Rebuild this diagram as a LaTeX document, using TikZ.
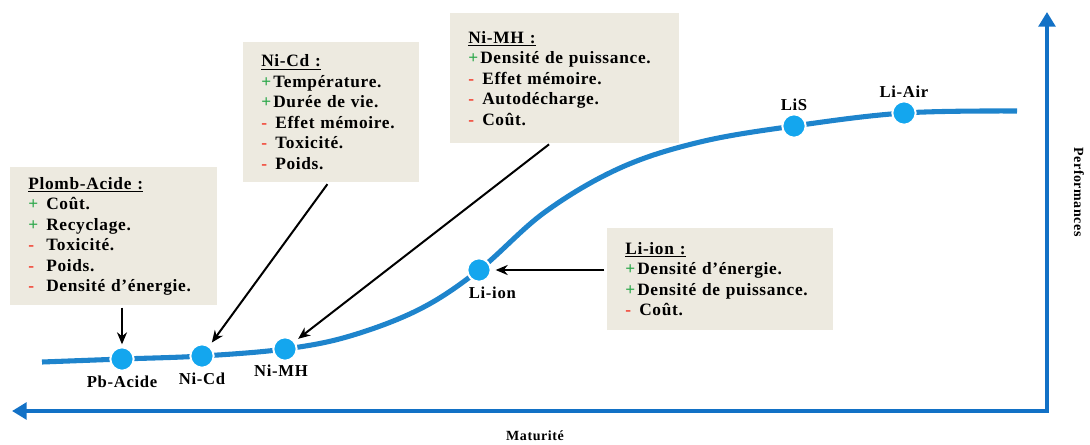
\documentclass[tikz,border=0pt]{standalone}
\usepackage{fontspec}
\setmainfont{Liberation Serif}[LetterSpace=4]
\usepackage{xcolor}
\usepackage{tikz}
\usetikzlibrary{positioning, arrows.meta}

\definecolor{cardbg}{HTML}{EDEAE0}
\definecolor{curveblue}{HTML}{1E84CC}
\definecolor{dotcyan}{HTML}{14A6EE}
\definecolor{axisblue}{HTML}{1271C6}
\definecolor{plusgreen}{HTML}{2EA84C}
\definecolor{minusred}{HTML}{F23A2A}

\newcommand{\good}[1][9pt]{\makebox[#1][l]{\textcolor{plusgreen}{+}}}
\newcommand{\bad}[1][10.5pt]{\makebox[#1][l]{\textcolor{minusred}{-}}}

\begin{document}
\begin{tikzpicture}[
    x=0.75pt, y=-0.75pt,
    card/.style={fill=cardbg, anchor=north west, align=left, inner xsep=13.5pt, inner ysep=0pt,
      font=\fontsize{13}{15.4}\selectfont\bfseries},
    dot/.style={circle, fill=dotcyan, draw=white, line width=1.5pt, minimum size=17.5pt, inner sep=0pt},
    tag/.style={font=\fontsize{12.5}{14}\selectfont\bfseries, inner sep=2pt},
    curve/.style={curveblue, line width=3.8pt},
    axis/.style={axisblue, line width=3pt, line join=miter},
    pointer/.style={-{Stealth[length=9pt, width=7.5pt]}, line width=1.5pt}
]
\useasboundingbox (0,0) rectangle (1090,444);

\coordinate (origin) at (1047,411);
\coordinate (xend) at (12,411);
\coordinate (yend) at (1047,12);
\draw[axis, {Triangle[length=11pt, width=12.5pt]}-{Triangle[length=11pt, width=12.5pt]}] (xend) -- (origin) -- (yend);
\node[font=\fontsize{10.5}{12}\selectfont\bfseries] (xlabel) at (535,436) {Maturité};
\node[font=\fontsize{10.5}{12}\selectfont\bfseries, rotate=-90] (ylabel) at (1079,192) {Performances};

\draw[curve] plot[smooth, tension=0.6] coordinates {(42,362) (122,359) (202,356) (285,349) (350,336) (420,309) (479,270) (545,212) (620,168) (700,142) (794,126) (904,113) (1017,111)};

\node[dot] (pb) at (122,359) {};
\node[dot] (nicd) at (202,356) {};
\node[dot] (nimh) at (285,349) {};
\node[dot] (liion) at (479,270) {};
\node[dot] (lis) at (794,126) {};
\node[dot] (liair) at (904,113) {};

\node[tag, below=1pt of pb] (pblabel) {Pb-Acide};
\node[tag, below=1pt of nicd] (nicdlabel) {Ni-Cd};
\node[tag, below=0pt of nimh, xshift=-3pt] (nimhlabel) {Ni-MH};
\node[tag, below=1pt of liion, xshift=10pt] (liionlabel) {Li-ion};
\node[tag, above=0pt of lis] (lislabel) {LiS};
\node[tag, above=0pt of liair] (liairlabel) {Li-Air};

\node[card, minimum width=155pt, minimum height=103.5pt, text width=128pt] (pbbox) at (10,167)
  {\underline{Plomb-Acide :}\\ \good[13.5pt]Coût.\\ \good[13.5pt]Recyclage.\\ \bad[13.5pt]Toxicité.\\ \bad[13.5pt]Poids.\\ \bad[13.5pt]Densité d’énergie.};
\node[card, minimum width=132pt, minimum height=105pt, text width=105pt] (nicdbox) at (243,42)
  {\underline{Ni-Cd :}\\ \good Température.\\ \good Durée de vie.\\ \bad Effet mémoire.\\ \bad Toxicité.\\ \bad Poids.};
\node[card, minimum width=171.75pt, minimum height=97.5pt, text width=144.75pt] (nimhbox) at (450,13)
  {\underline{Ni-MH :}\\ \good Densité de puissance.\\ \bad Effet mémoire.\\ \bad Autodécharge.\\ \bad Coût.};
\node[card, minimum width=169.5pt, minimum height=76.5pt, text width=142.5pt] (liionbox) at (607,228)
  {\underline{Li-ion :}\\ \good Densité d’énergie.\\ \good Densité de puissance.\\ \bad Coût.};

\draw[pointer, shorten <=1.5pt, shorten >=1.5pt] (pbbox.south -| pb) -- (pb);
\draw[pointer, shorten <=1.5pt, shorten >=3pt] ([xshift=-2pt]nicdbox.south) -- (nicd);
\draw[pointer, shorten <=1pt, shorten >=3pt] ([xshift=-11pt]nimhbox.south) -- (nimh);
\draw[pointer, shorten <=2pt, shorten >=3pt] (liionbox.west |- liion) -- (liion);
\end{tikzpicture}
\end{document}
